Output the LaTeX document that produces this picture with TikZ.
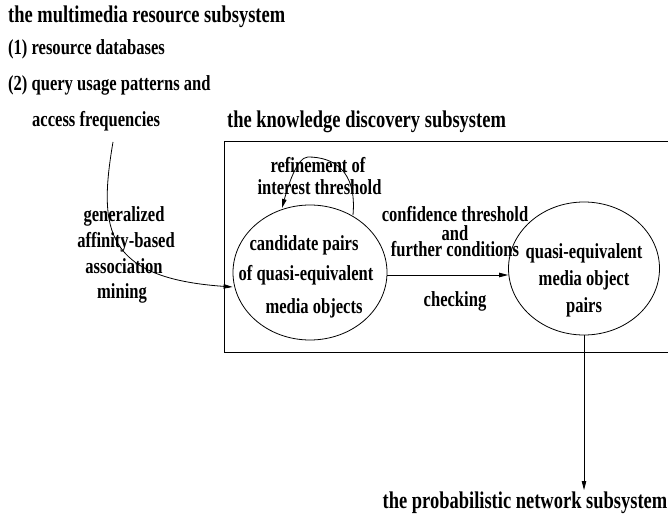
\documentclass[tikz,border=0pt]{standalone}
\usepackage{fontspec}
\setmainfont{Liberation Serif}
\newfontfamily\titlefont[FakeStretch=0.77]{Liberation Serif Bold}
\newfontfamily\labelfont[FakeStretch=0.77]{Liberation Serif Bold}
\usetikzlibrary{arrows.meta,shapes.geometric}
\begin{document}
\begin{tikzpicture}[x=1pt,y=-1pt,
  title/.style={font=\titlefont\fontsize{24}{26}\selectfont,inner sep=0pt,anchor=base west},
  lbl/.style={font=\labelfont\fontsize{21.5}{23}\selectfont,inner sep=0pt,anchor=base},
  lblw/.style={font=\labelfont\fontsize{21.5}{23}\selectfont,inner sep=0pt,anchor=base west},
  oval/.style={draw,ellipse,line width=0.8pt,inner sep=0pt},
  conn/.style={line width=0.8pt,-{Triangle[length=9pt,width=4.5pt]}}]
\useasboundingbox (0,0) rectangle (668,521);
% texts top
\node[title] (t1) at (8,23) {the multimedia resource subsystem};
\node[lblw] (i1) at (8,55) {(1) resource databases};
\node[lblw] (i2) at (8,91) {(2) query usage patterns and};
\node[lblw] (i3) at (32,127) {access frequencies};
\node[title] (t2) at (227,128) {the knowledge discovery subsystem};
% box
\draw[line width=0.8pt] (668,141) -- (224,141) -- (224,352) -- (668,352);
% ellipses
\node[oval,minimum width=154pt,minimum height=135pt] (L) at (310,272.5) {};
\node[oval,minimum width=151pt,minimum height=133pt] (R) at (584,268.5) {};
% ellipse texts
\node[lbl] (l1) at (304,250) {candidate pairs};
\node[lbl] (l2) at (306,280) {of quasi-equivalent};
\node[lbl] (l3) at (314,313) {media objects};
\node[lbl] (r1) at (584,258) {quasi-equivalent};
\node[lbl] (r2) at (584,285) {media object};
\node[lbl] (r3) at (584,312) {pairs};
% loop
\coordinate (ls) at (353,215);
\coordinate (lt) at (308,157);
\coordinate (le) at (282,208);
\draw[conn] (ls) .. controls (357,170) and (333,157) .. (lt)
  .. controls (297,157) and (288,186) .. (le);
\node[lbl] (f1) at (318,173) {refinement of};
\node[lbl] (f2) at (319.5,195) {interest threshold};
% left curve
\coordinate (cs) at (113,142);
\coordinate (ce) at (L.west |- 0,287);
\draw[conn] (cs) .. controls (98,230) and (105,278) .. (ce);
\node[lbl] (g1) at (124,222) {generalized};
\node[lbl] (g2) at (126,247) {affinity-based};
\node[lbl] (g3) at (124,273) {association};
\node[lbl] (g4) at (122,298) {mining};
% middle arrow
\coordinate (ma) at (387,275);
\draw[conn] (ma) -- (R.west |- ma);
\node[lbl] (c1) at (455,222) {confidence threshold};
\node[lbl] (c2) at (455,240) {and};
\node[lbl] (c3) at (455,256) {further conditions};
\node[lbl] (c4) at (455,306) {checking};
% down arrow
\node[title,anchor=base] (t3) at (525,508) {the probabilistic network subsystem};
\coordinate (db) at (584,490);
\draw[conn] (R.south) -- (db);
\end{tikzpicture}
\end{document}
